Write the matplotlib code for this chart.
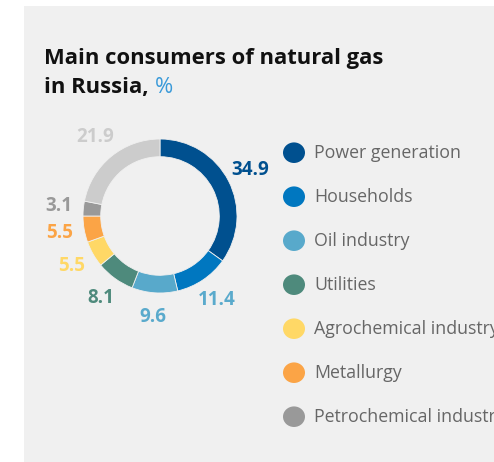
import matplotlib.pyplot as plt
from matplotlib.patches import Rectangle
import numpy as np

plt.rcParams['font.family'] = ['Open Sans', 'DejaVu Sans']

categories = ['Power generation', 'Households', 'Oil industry', 'Utilities',
              'Agrochemical industry', 'Metallurgy', 'Petrochemical industry']
values = [34.9, 11.4, 9.6, 8.1, 5.5, 5.5, 3.1]
other = 21.9
colors = ['#00508f', '#0077c0', '#58a9cb', '#4e8a7c', '#ffd866', '#fba446', '#999999']
other_color = '#cccccc'
label_colors = ['#00508f', '#5aaacc', '#5aaacc', '#4e8a7c', '#ffd866', '#fba446', '#999999']

W, H = 494, 462
fig = plt.figure(figsize=(W / 100, H / 100), dpi=100)
fig.patch.set_facecolor('white')


def fx(x):
    return x / W


def fy(y):
    # y measured from the top in pixels
    return 1 - y / H


# gray panel
fig.add_artist(Rectangle((fx(24), 0), 1 - fx(24), fy(6), transform=fig.transFigure,
                         facecolor='#f0f0f0', edgecolor='none', zorder=0))

# title
fig.text(fx(44), fy(64), 'Main consumers of natural gas', fontsize=15.8,
         weight='bold', color='#111111', va='baseline')
t2 = fig.text(fx(44), fy(93), 'in Russia, ', fontsize=15.8,
              weight='bold', color='#111111', va='baseline')
r = fig.canvas.get_renderer()
x_end = t2.get_window_extent(r).x1
fig.text(x_end / fig.bbox.width, fy(93), '%', fontsize=15.8, color='#3a9ad9', va='baseline')

# donut
cx, cy, r_px = 160, 216, 77
L = 1.6
S = 2 * L * r_px
ax = fig.add_axes([fx(cx - S / 2), fy(cy + S / 2), fx(S), S / H])

all_vals = values + [other]
all_cols = colors + [other_color]
wedges, _ = ax.pie(all_vals, colors=all_cols, startangle=90, counterclock=False,
                   radius=1, wedgeprops=dict(width=0.23, edgecolor='#f0f0f0', linewidth=0.6))
ax.set_xlim(-L, L)
ax.set_ylim(-L, L)
ax.axis('off')

all_lab_cols = label_colors + [other_color]
for w, v, c in zip(wedges, all_vals, all_lab_cols):
    ang = np.deg2rad((w.theta1 + w.theta2) / 2)
    rad = 1.32
    ax.text(rad * np.cos(ang), rad * np.sin(ang), str(v), ha='center', va='center',
            fontsize=13.5, weight='bold', color=c)

# legend
for i, (name, c) in enumerate(zip(categories, colors)):
    y = 152.7 + i * 44
    fig.add_artist(plt.Circle((fx(294), fy(y)), 11 / W, transform=fig.transFigure,
                              facecolor=c, edgecolor='none'))
    fig.text(fx(314), fy(y), name, fontsize=12.8, color='#666666', va='center')

fig.savefig('out.png', dpi=100)
